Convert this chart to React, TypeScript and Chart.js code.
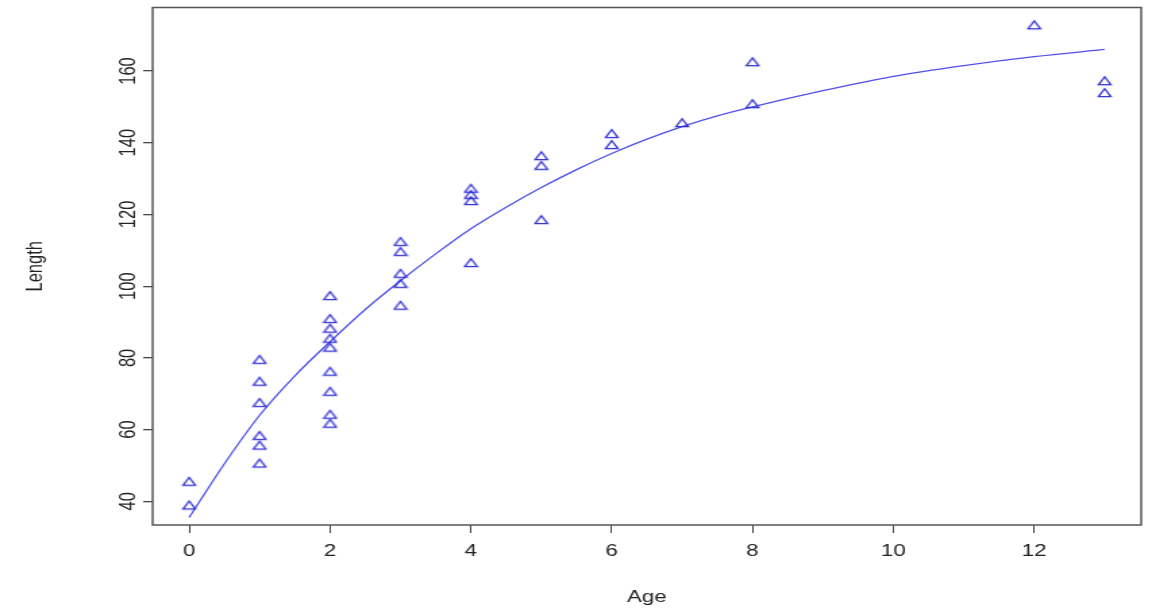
import React, { useEffect, useRef } from "react";
import { Chart, registerables } from "chart.js";

Chart.register(...registerables);

// Observed fish data (Age in years, Length)
const ageValues = [
  0, 0,
  1, 1, 1, 1, 1, 1,
  2, 2, 2, 2, 2, 2, 2, 2, 2,
  3, 3, 3, 3, 3,
  4, 4, 4, 4,
  5, 5, 5,
  6, 6,
  7,
  8, 8,
  12,
  13, 13,
];
const lengthValues = [
  45.2, 38.6,
  79.2, 73.1, 67.2, 58.0, 55.3, 50.3,
  97.0, 90.6, 87.9, 85.1, 82.6, 75.9, 70.3, 63.9, 61.4,
  112.1, 109.3, 103.2, 100.4, 94.3,
  126.9, 125.2, 123.5, 106.2,
  136.0, 133.3, 118.2,
  142.2, 139.1,
  145.2,
  162.2, 150.5,
  172.5,
  156.9, 153.6,
];

// Fitted growth curve
const curveAges = [0, 0.5, 1, 1.5, 2, 2.5, 3, 3.5, 4, 4.5, 5, 5.5, 6, 6.5, 7, 7.5, 8, 9, 10, 11, 12, 13];
const curveLengths = [35.5, 50.5, 64, 75, 84.5, 93.5, 101.5, 109, 116, 122, 127.5, 132.5, 137, 141, 144.5, 147.5, 150, 154.5, 158.5, 161.5, 164, 166];

const xTickValues = [0, 2, 4, 6, 8, 10, 12];
const yTickValues = [40, 60, 80, 100, 120, 140, 160];

const xTitle = "Age";
const yTitle = "Length";

const W = 1152;
const H = 609;
const LOGICAL_W = 853; // canvas is stretched horizontally to W like the reference

function makeTriangle(color: string): HTMLCanvasElement {
  const c = document.createElement("canvas");
  c.width = 12;
  c.height = 14;
  const g = c.getContext("2d")!;
  g.strokeStyle = color;
  g.lineWidth = 1.3;
  g.lineJoin = "miter";
  g.beginPath();
  g.moveTo(6, 1.7);
  g.lineTo(10.6, 9.7);
  g.lineTo(1.4, 9.7);
  g.closePath();
  g.stroke();
  return c;
}

const boxPlugin = {
  id: "rbox",
  afterDraw(chart: any) {
    const { ctx, chartArea } = chart;
    const { left, top, right, bottom } = chartArea;
    ctx.save();
    ctx.strokeStyle = "#555555";
    ctx.lineWidth = 1.5;
    ctx.strokeRect(left, top, right - left, bottom - top);
    ctx.restore();
  },
};

export default function App() {
  const canvasRef = useRef<HTMLCanvasElement | null>(null);

  useEffect(() => {
    document.body.style.margin = "0";
    const canvas = canvasRef.current;
    if (!canvas) return;
    const font = { family: "'Liberation Sans', Arial, sans-serif", size: 16.5 };
    const textColor = "#222222";
    const tri = makeTriangle("rgb(44,44,215)");

    const chart = new Chart(canvas, {
      type: "scatter",
      data: {
        datasets: [
          {
            type: "scatter",
            data: ageValues.map((a, i) => ({ x: a, y: lengthValues[i] })),
            pointStyle: tri as any,
            pointRadius: 6,
            showLine: false,
          } as any,
          {
            type: "line",
            data: curveAges.map((a, i) => ({ x: a, y: curveLengths[i] })),
            borderColor: "rgb(80,80,235)",
            borderWidth: 1.3,
            pointRadius: 0,
            fill: false,
            cubicInterpolationMode: "monotone",
          } as any,
        ],
      },
      options: {
        responsive: false,
        maintainAspectRatio: false,
        animation: false,
        devicePixelRatio: 1,
        layout: { padding: { top: 7.5, right: 8, left: 0, bottom: 0 } },
        plugins: { legend: { display: false }, tooltip: { enabled: false } },
        scales: {
          x: {
            type: "linear",
            min: -0.52,
            max: 13.52,
            afterBuildTicks: (s: any) => {
              s.ticks = xTickValues.map((v) => ({ value: v }));
            },
            afterFit: (s: any) => {
              s.height = 84;
            },
            grid: { drawOnChartArea: false, drawTicks: true, tickLength: 8, color: "#444444", lineWidth: 1 },
            border: { display: false },
            ticks: { font, color: textColor, padding: 9, autoSkip: false, maxRotation: 0, minRotation: 0 },
            title: { display: true, text: xTitle, font, color: textColor, padding: { top: 0, bottom: 2 } },
          },
          y: {
            type: "linear",
            min: 33.4,
            max: 177.7,
            afterBuildTicks: (s: any) => {
              s.ticks = yTickValues.map((v) => ({ value: v }));
            },
            afterFit: (s: any) => {
              s.width = 113;
            },
            grid: { drawOnChartArea: false, drawTicks: true, tickLength: 7, color: "#444444", lineWidth: 1.3 },
            border: { display: false },
            ticks: { font, color: textColor, padding: -3, autoSkip: false, minRotation: 90, maxRotation: 90, crossAlign: "center" },
            title: { display: true, text: yTitle, font, color: textColor, padding: { top: 17, bottom: 0 } },
          },
        },
      } as any,
      plugins: [boxPlugin],
    });
    return () => chart.destroy();
  }, []);

  return (
    <div style={{ position: "relative", width: W, height: H, background: "#ffffff" }}>
      <canvas
        ref={canvasRef}
        width={LOGICAL_W}
        height={H}
        style={{ width: `${W}px`, height: `${H}px`, display: "block" }}
      />
    </div>
  );
}
